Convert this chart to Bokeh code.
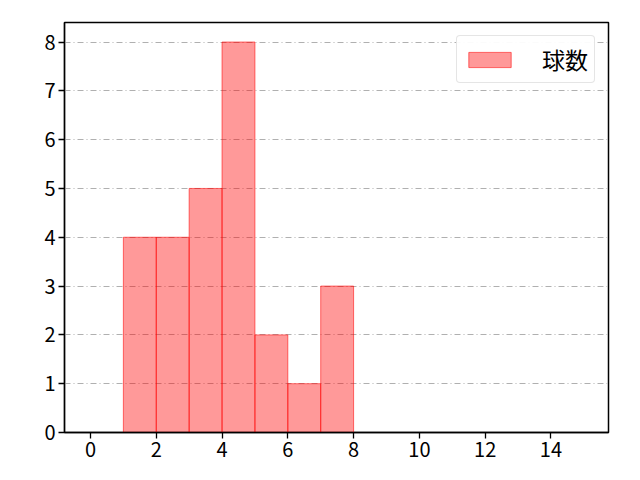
from bokeh.plotting import figure
from bokeh.models import Range1d, FixedTicker, Legend, LegendItem
from bokeh.embed import file_html
from bokeh.resources import INLINE

bin_left = [1, 2, 3, 4, 5, 6, 7]
bin_right = [2, 3, 4, 5, 6, 7, 8]
counts = [4, 4, 5, 8, 2, 1, 3]
series_name = "球数"
x_ticks = [0, 2, 4, 6, 8, 10, 12, 14]
y_ticks = [0, 1, 2, 3, 4, 5, 6, 7, 8]

FONT = "Noto Sans CJK JP"

p = figure(width=632, height=472, output_backend="svg", toolbar_location=None,
           x_range=Range1d(-0.79, 15.75), y_range=Range1d(0, 8.4),
           min_border_left=64, min_border_right=24, min_border_top=22, min_border_bottom=40)
p.frame_width = 544
p.frame_height = 410

r = p.quad(left=bin_left, right=bin_right, bottom=0, top=counts,
           fill_color="#ff0000", fill_alpha=0.4, line_color="#ff0000", line_alpha=0.55, line_width=1)

p.xaxis.ticker = FixedTicker(ticks=x_ticks)
p.yaxis.ticker = FixedTicker(ticks=y_ticks)
for ax in (p.xaxis[0], p.yaxis[0]):
    ax.major_label_text_font = FONT
    ax.major_label_text_font_size = "20px"
    ax.major_label_text_color = "black"
    ax.axis_line_color = "black"
    ax.axis_line_width = 1.3
    ax.major_tick_line_color = "black"
    ax.major_tick_line_width = 1.3
    ax.major_tick_in = 0
    ax.major_tick_out = 6
    ax.minor_tick_line_color = None
    ax.major_label_standoff = 3

p.xgrid.grid_line_color = None
p.ygrid.grid_line_color = "#b0b0b0"
p.ygrid.grid_line_dash = "6 3 1 3"
p.ygrid.grid_line_width = 1

p.outline_line_color = "black"
p.outline_line_width = 1.5
p.background_fill_color = "white"
p.border_fill_color = "white"

legend = Legend(items=[LegendItem(label=series_name, renderers=[r])], location="top_right")
legend.label_text_font = FONT
legend.label_text_font_size = "23px"
legend.label_text_color = "black"
legend.border_line_color = "#cccccc"
legend.border_line_width = 1
legend.border_radius = 4
legend.glyph_width = 53
legend.glyph_height = 19
legend.label_height = 20
legend.padding = 6
legend.spacing = 0
legend.label_standoff = 26
legend.margin = 13
p.add_layout(legend)

open("out.html", "w").write(file_html(p, INLINE))
